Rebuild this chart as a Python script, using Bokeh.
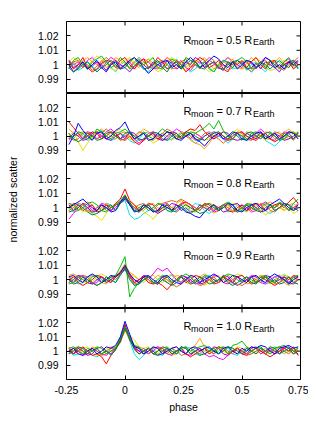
import numpy as np
from bokeh.plotting import figure
from bokeh.layouts import column, row
from bokeh.models import Range1d, FixedTicker, Label, CustomJSTickFormatter
from bokeh.embed import file_html
from bokeh.resources import INLINE

# phase grid (step 0.02)
phase = np.round(np.arange(50) * 0.02 - 0.24, 2)
x_ticks = [-0.25, 0, 0.25, 0.5, 0.75]
y_ticks = [0.99, 1.0, 1.01, 1.02]
x_lim = (-0.25, 0.75)
y_lim = (0.98, 1.03)
radii = ["0.5", "0.7", "0.8", "0.9", "1.0"]
colors = ["#00e8e8", "#e8e000", "#ff00ff", "#ffa500", "#9400d3",
          "#ff0000", "#d2691e", "#00c000", "#0000ff", "#008040"]

# deviations from 1, in units of 1e-3 (one row per colour)
dev_05 = [
    [-3, 1,-4,-2, 2,-1,-4, 0, 3,-2, -5, 0, 2,-2, 1, 4,-3,-5,-1, 2,  0,-3, 2, 4, 0,-2,-5,-3, 1, 2, -2,-5, 0, 3, 1,-3,-2, 2,-4, 0,  2,-2,-5, 0, 3, 2,-3, 1, 2,-2],
    [ 2, 5, 3, 0,-2, 3, 6, 4, 1,-3, -4, 1, 3, 5, 2,-1, 0, 4,-2,-5, -3, 2, 5, 3,-2,-4,-1, 1, 3,-2, -5,-3, 1, 2, 5, 3, 0,-3,-2, 2,  5, 2,-2,-4,-3, 0, 3, 2,-2, 1],
    [ 3, 0, 2,-2, 3, 5, 1,-3, 2, 5,  3,-2, 0, 2,-3, 1, 4, 2,-2,-3,  1, 5, 2, 0, 3,-2,-4, 0, 2,-2,  3, 1,-3, 2, 5, 2, 0,-2, 3, 1, -3, 2, 5, 3, 0,-2, 2, 4,-1, 2],
    [ 0, 2,-2, 3, 5, 2, 0, 3,-2, 1,  5, 3, 1, 4, 0,-2, 2, 4, 1,-3,  2, 5, 3, 0, 2,-2, 1, 3, 2, 5,  1,-3,-1, 2, 0, 4,-2,-3, 1, 5,  2,-2, 0, 3, 2, 5, 1,-2, 3, 2],
    [ 3,-2, 0, 2,-3,-1, 2, 0,-4, 1,  3, 0,-2,-5,-1, 2, 0,-3, 2, 0, -2, 3, 1,-3,-1, 2, 0, 5, 3,-2,  0, 2,-2,-4, 2, 0, 3, 1,-3,-2,  1,-3, 2, 0,-2,-5, 0, 2, 3, 0],
    [ 2,-3, 0, 5,-2,-5,-3, 1, 3, 2, -2, 3, 5, 0,-3, 2, 4,-2, 0, 5,  2,-3,-1, 3, 0,-5,-2, 2, 5, 3, -2, 0, 3,-3,-5, 2, 0, 3,-2, 2,  5, 0,-3, 2, 3,-2, 0, 2,-3, 0],
    [-3, 2, 3,-2, 0,-4,-1, 2, 5, 2, -2,-3, 0,-2, 2, 5, 2,-1,-3, 2,  3, 0,-3,-2, 2, 4,-2, 0,-3, 2,  5, 3,-2, 0,-4,-2, 1, 2, 3,-3, -2, 2, 3, 0, 2,-2,-4, 0, 2, 5],
    [-2, 3, 5, 0,-3, 2, 4, 6, 2,-2,  0, 5, 2,-3,-1, 3, 0, 2, 5,-2, -3, 0, 4, 2,-2, 5, 3, 0,-2, 2, -3,-5, 0, 3, 2,-2, 3, 5, 2,-3,  0, 2,-2, 3, 0,-3, 2, 5, 0,-2],
    [ 0,-5,-2, 2,-3, 0, 3,-2,-5, 0,  2,-3, 0, 3, 5, 2,-2,-6,-3, 0,  2, 3,-2, 0,-3, 2, 5, 2,-2, 0,  3, 6, 4, 0,-2, 2,-3, 0, 3, 2, -2, 0, 5, 3,-2, 0,-3, 2, 0, 3],
    [-2,-5,-3, 0, 2,-2,-5,-2, 0, 3,  0,-3,-2, 2, 5, 0,-3,-2, 0, 3, -2,-5, 0, 2,-3, 0, 3, 2,-2,-3,  0, 2,-2,-3, 0, 2, 3, 0,-2,-5, -2, 2, 0,-3, 0, 3, 0,-2, 2,-3],
]
dev_07 = [
    [ 2,-2, 3, 0,-3,-2, 2, 4, 0,-3, -2, 2, 0,-3,-5,-2, 2, 3, 0,-2,  2,-3,-2, 0, 3, 2,-2,-5,-3, 0,  2, 3, 0,-2,-5,-2, 2, 0,-3,-2,  0, 2,-3,-5,-7,-4, 0, 2,-2, 0],
    [ 0, 3,-4,-10,-5, 0, 3, 2,-2, 0, 3, 5, 2,-2,-3, 0, 2,-2,-5,-3,  0, 3, 2,-2, 0, 3, 5, 2, 0,-3, -2, 2, 3, 0,-2, 2, 5, 2,-2, 0,  3, 0,-3,-2, 2, 3, 0,-2, 2, 3],
    [-3, 0, 2,-2, 3, 2,-2, 0, 3, 5,  2,-2, 0, 2,-2,-5,-2, 2, 3, 0, -3,-2, 2, 5, 3, 0,-2, 2, 0,-3,  0, 3, 2,-2,-3, 0, 2, 3, 0,-2,  2, 5, 2,-2,-3, 0, 3, 2,-2, 2],
    [ 5, 2, 0, 3, 2,-2, 3, 5, 2, 0, -2, 2, 3, 0,-2, 2, 5, 3, 0,-2,  2, 0,-3, 0, 3, 2,-3,-5,-6,-9, -5, 0, 2, 3, 0,-2, 2, 0, 3, 2, -2, 0, 3, 2,-2, 0, 2, 5, 2,-2],
    [-2, 2, 0,-3,-2, 2, 3, 0,-2,-3,  0, 2,-2, 3, 2,-2,-3, 0, 2,-2, -3, 0, 3, 2,-2, 0, 2,-2,-3, 0,  2,-2, 0, 3, 2,-2,-3,-2, 2, 0, -2, 3, 0,-2, 2, 0,-3,-2, 0, 2],
    [10, 6, 2,-2, 0, 3, 2,-2, 0, 3,  2,-2,-3, 0,-4,-6,-3, 0, 2,-2,  0, 3, 2,-2, 0, 3, 5, 4, 8, 3,  0,-2, 2, 0,-3,-2, 2, 3, 0,-2, -3, 0, 2,-2,-4,-2, 0, 3, 2, 0],
    [ 0,-3,-2, 2, 3, 0,-2, 2, 5, 2,  0,-3,-2, 2, 0, 3, 2,-2,-3, 0,  2, 5, 3, 0,-2, 2, 0,-3,-2, 2,  3, 0,-2,-5,-2, 0, 3, 2,-2,-3,  0, 2,-2, 0, 3, 2,-2, 0,-3, 2],
    [-2, 0, 3, 2,-2, 0, 5, 3, 0,-2,  2, 3, 5, 2,-2, 0, 3, 0,-2, 2,  5, 3, 0,-2, 2, 0, 3, 2, 4, 6,  9, 5,11, 4, 0,-2, 2, 0,-3, 2,  3, 0,-2, 2, 0,-3,-2, 2, 3, 0],
    [-6, 0, 9, 4, 0,-3, 2, 3,-2, 0,  4, 6,10, 3,-2, 0, 2,-3,-2, 2,  0, 3, 2,-2,-3, 0, 2,-2,-4,-7, -3, 0, 2,-2, 0, 3, 2,-2,-3, 0,  2, 3,-2, 0, 2,-2, 0, 3, 2,-2],
    [ 2,-2,-4,-2, 2, 0,-3,-2, 2, 3,  0,-2, 2, 3, 0,-3,-2, 0, 3, 2, -2,-3, 0, 2,-2, 3, 2, 0,-2,-3,  0, 2, 3, 0,-2, 2, 0,-3, 2, 3,  0,-2, 2, 3, 0,-3, 2, 0,-2, 3],
]
dev_08 = [
    [ 0,-3,-2, 2, 0,-4,-2, 0, 3, 2, -2, 3, 5,-5,-8,-7,-4,-2, 0, 3,  2,-2,-3, 0, 2,-2, 0, 3, 2,-2, -4,-2, 0, 2,-3,-2, 2, 0,-3, 2,  3, 0,-2,-4,-2, 0, 3, 2,-2, 0],
    [-2, 2, 0,-3,-2,-4,-6,-9,-4, 0,  2, 4, 6, 2,-2, 0,-3,-5,-8,-4,  0, 2,-2, 0, 3, 2,-2,-3, 0, 2, -2,-4,-2, 2, 0, 3, 2,-2,-3, 0,  2,-2,-5,-3, 0, 2,-2, 0,-4,-2],
    [-8,-4, 0, 3, 2,-2, 0, 3, 2,-2,  0, 4, 7, 3, 0,-2, 2, 0,-3,-2,  2, 3, 0,-2, 2, 4, 2, 0,-2, 2,  0,-3,-2, 2, 3, 0,-2, 2, 0,-3, -2, 2, 4, 2,-2, 0, 3, 2, 0, 3],
    [ 3, 0,-2, 2, 4, 2,-2, 0, 3, 0,  2, 3, 8, 4, 2, 0,-2, 2, 3, 0, -2, 2, 0, 3, 5, 3, 0,-2, 2, 0,  3, 2,-2, 0, 2,-2,-3, 0, 2, 3,  0,-2, 2, 4, 2, 0,-2, 2, 3, 0],
    [ 2,-2, 0, 3, 0,-3,-2, 2, 0,-2,  2, 3, 6, 2,-2,-3, 0, 2,-2,-4, -2, 0, 3, 2,-2, 0,-3,-2, 2, 0, -2, 2, 0,-3,-2, 2, 3, 0,-2, 2,  0,-3,-2, 2, 0, 3, 2,-2, 0,-2],
    [ 0, 3, 2,-2, 0, 2,-3,-2, 2, 0,  3, 6,13, 5, 2,-2, 0, 3, 2,-2,  0, 2,-2, 0, 3, 4, 2,-2, 0, 3,  2,-2, 0, 2,-2,-3, 0, 2,-2, 0,  3, 2,-2, 0, 2, 3, 0, 4, 7, 3],
    [-2, 0, 3, 2,-2,-3, 0, 2,-2, 0,  2, 4, 7, 3, 0, 2, 3, 0,-2, 2,  3, 4, 5, 4, 6, 4, 2, 0,-2, 2,  3, 0,-2, 2, 0,-3,-2, 0, 2,-2,  0, 3, 2,-2,-3, 0, 2,-2, 0, 2],
    [ 3, 2,-2, 0, 3, 4, 2,-2,-3, 0,  2, 5, 9, 3,-2, 0, 2,-2, 0, 3,  2,-2,-3, 0, 2,-2,-4,-2, 0, 2,  3, 0,-2, 2, 4, 2,-2, 0, 3, 2, -2, 0, 3, 2, 0, 4, 2,-2, 3, 6],
    [ 0, 2, 4, 6, 3, 0,-2, 2, 0,-3, -2, 4, 8, 2,-3,-2, 2, 0,-3,-2,  2, 0,-2, 2, 0,-3,-4,-6,-7,-3,  0, 2,-2, 0, 3, 2,-2,-3, 0, 2,  3, 0,-2, 2, 4, 6, 3, 0,-2, 2],
    [-3,-2, 2, 0,-3,-5,-4,-2, 0, 2, -2, 3, 7, 4,-2,-3, 0, 2,-2,-3,  0, 2,-2,-3, 0, 2, 0,-2,-4,-3,  0, 2,-2, 0, 3, 0,-3,-2, 2, 0, -2,-3, 0, 2,-2, 0, 3, 2,-2, 0],
]
dev_09 = [
    [ 2, 0,-3,-2, 2, 3, 0,-2, 2, 0, -2, 4, 7, 2,-4,-3, 0, 2,-2,-3,  0, 2, 3, 0,-2, 2, 0,-3,-2, 2,  3, 0,-2, 2, 0,-3, 2, 3, 0,-2,  2, 0,-3,-2, 2, 0, 3, 2,-2, 0],
    [-2, 2, 3, 0,-3,-2, 2, 4, 2, 0,  3, 5,10, 4, 2, 0,-2, 2, 3, 0, -2, 2, 4, 2,-2, 0, 3, 2,-2,-4, -2, 2, 3, 0,-2, 2, 4, 3, 0,-2,  2, 3, 0,-3,-2, 2, 4, 2, 0, 3],
    [ 0,-2, 2, 3, 0,-3,-2, 2, 0,-2,  2, 4, 8, 3, 0,-2, 2, 0, 4, 8,  6, 8, 4, 0,-2, 2, 0,-3,-2, 2,  0, 3, 2,-2,-3, 0, 2,-2, 0, 3,  2,-2,-3, 0, 2, 3, 0,-2, 2, 0],
    [ 3, 4, 2,-2, 0, 3, 2,-2,-3, 0,  2, 6,11, 5, 3, 0, 2,-2, 0, 3,  2,-2, 0, 3, 2,-2,-3, 0, 2, 4,  2,-2, 0, 3, 0,-2, 2, 0,-3,-2,  0, 3, 2,-2, 0, 2,-2,-4,-2, 2],
    [-2, 0, 3, 2,-2,-3, 0, 2,-2, 0,  3, 4, 7, 2,-2, 0, 3, 2,-2,-3,  0, 2,-2, 0, 3, 2,-2, 0,-3,-2,  2, 0,-2, 3, 2,-2,-4,-2, 0, 2, -2, 0, 3, 2,-2, 0, 2,-2,-3, 0],
    [ 0, 2,-2,-4,-2, 0, 3, 2, 0,-2,  2, 5, 9, 3,-2, 0, 2,-2,-3,-2, -4,-7,-3, 0, 2,-2, 0, 3, 2,-2,  0,-3,-2, 2, 0,-2, 2, 3, 0,-3, -2, 2, 0,-2,-4,-2, 2, 0, 3, 2],
    [ 2,-2, 0, 3, 2,-2,-4,-2, 0, 2,  0, 4, 8, 2,-3,-2, 2, 0,-3,-2,  2, 0,-3,-5,-3, 0, 2,-2,-4,-3,  0, 2,-2, 0, 3, 0,-3,-4,-2, 2,  0,-2, 2, 0,-3,-2, 0, 2,-2, 0],
    [-3,-2, 2, 0,-2, 2, 3, 0,-2, 2,  3, 9,16,-12,-6,-2, 0, 2,-2, 0, 3, 2,-2, 0, 2, 4, 2,-2, 0, 3,  2,-2, 0, 2, 4, 3, 0,-2, 2, 0, -2, 2, 3, 0,-2, 2, 0,-3, 2, 3],
    [ 2, 3, 0,-2, 2, 4, 2,-2, 0, 3,  2, 5,10, 4, 0,-2, 2, 3, 0,-2,  2, 3, 0,-2,-3, 0, 3, 2,-2, 0,  2, 4, 2,-2, 0, 3, 2, 0,-2, 2,  3, 0,-2, 2, 4, 2, 0,-3, 0, 2],
    [ 0,-3,-2, 2, 0,-2,-4,-2, 2, 0, -2, 3, 8, 0,-4,-3, 0, 2,-2,-3,  0,-2,-4,-2, 2, 0,-3,-2, 2, 0, -3,-2, 0, 2,-2,-4,-2, 0, 2,-2, -3, 0, 2,-2, 0,-3,-2, 2,-2,-3],
]
dev_10 = [
    [ 0,-3,-2, 2, 0,-3,-4,-2, 0, 2,  3, 8,16, 7,-2,-6,-3, 0, 2,-2, -3, 0, 2,-2, 0, 3, 2,-2,-3, 0,  2,-2, 0, 3, 2,-2,-3, 0, 2,-2,  0, 2,-2, 0, 3, 2,-2, 0, 2,-3],
    [ 2, 0,-2, 2, 3, 0,-3,-2, 2, 0,  2, 7,14,11, 8, 3, 2, 3, 0,-2,  2, 0,-3,-2, 2, 3, 0,-2, 2, 0, -2, 2, 3, 0,-2, 0, 3, 2,-2, 0,  2,-2, 0, 3, 2, 0,-2, 2, 0, 3],
    [-2, 2, 0,-3,-2, 2, 0,-2,-3, 0,  2, 6,17, 9, 2, 0, 2,-2, 0, 3,  2,-2,-3, 0, 2,-2,-3, 0, 2,-2, -4,-3,-5,-6,-3, 0, 2,-2, 0, 3,  2,-2, 0, 2,-2, 0, 3, 2,-2, 0],
    [ 3, 0, 2,-2, 0, 3, 2,-2, 0, 3,  3, 9,15, 8, 3, 2,-2, 0, 3, 2,  0,-2, 2, 3, 0,-2, 2, 4, 9, 3,  0,-2, 2, 0, 3, 2,-2, 0, 3, 2, -2, 0, 2,-2, 0, 3, 2, 0,-2, 2],
    [ 0,-2, 2, 0,-3,-2, 2, 3, 0,-2,  2, 7,18,10, 3, 0,-2, 2, 0,-3, -2, 2, 0,-2, 3, 2,-2, 0, 2,-2,  0, 3, 2,-2,-3, 0, 2, 0,-2, 2,  3, 0,-2, 2, 0,-2, 2, 3, 0,-2],
    [ 2,-2, 0, 3, 0,-3,-2,-4,-9,-3,  1, 8,19, 8, 2,-2, 0, 2,-2, 0,  3, 2,-2, 0, 2,-2,-4,-2, 0, 2, -2, 0, 3, 2,-2, 0, 2,-2,-3, 0,  2, 0,-2,-4,-2, 0, 2, 0, 3,-3],
    [-2, 2, 3, 0,-2, 2, 0,-3,-2, 2,  2, 6,15, 9, 4, 2, 0,-2, 2, 3,  0,-2, 2, 0,-3,-2, 2, 0,-2, 2,  0,-2, 2, 3, 0,-2, 2, 0,-3,-2,  0, 2,-2, 0, 2, 3, 0,-2, 2, 0],
    [ 2, 3, 0,-2, 2, 0, 3, 2,-2, 0,  2, 9,17,10, 4, 3, 0, 2,-2, 0,  2, 3, 0,-2, 2, 3, 0, 2, 3, 4,  2, 0, 3, 2,-2, 4, 5, 7, 3, 0,  2, 3, 0,-2, 2, 3, 4, 2, 0, 2],
    [ 0, 2,-2,-3, 0, 2,-2, 0, 3, 2,  4,10,21,12, 3, 2,-2, 0, 3, 2, -2, 0, 2, 3, 0,-2, 2, 3, 0, 2,  3, 0,-2, 2, 3, 0,-2, 2, 0, 3,  2, 4, 3, 0,-2, 2, 3, 4, 2, 3],
    [-2, 0, 3, 2,-2, 0, 2,-2, 0,-3,  1, 7,16, 9, 1,-2, 0, 2,-2,-3,  0, 2,-2, 0, 3, 2,-2, 0,-3,-2,  0, 2,-2, 0, 3, 2, 0,-2, 2, 0, -2, 2, 0, 3, 2,-2, 0, 2,-2, 0],
]
panels = [dev_05, dev_07, dev_08, dev_09, dev_10]
y_title = "normalized scatter"
x_title = "phase"

FONT = "Liberation Sans"
fmt = CustomJSTickFormatter(code="return String(Math.round(tick*100)/100);")
frame_heights = [72, 71, 72, 72, 71]
# the page is drawn from the window's corner: keep an 8px offset in the borders
TITLE_W, LEFT, RIGHT, TOP, BOTTOM, FRAME_W = 30, 36, 8, 21, 34, 234


def style_axis(ax):
    ax.axis_line_color = None
    ax.major_tick_in = 4
    ax.major_tick_out = 0
    ax.minor_tick_in = 0
    ax.minor_tick_out = 0
    ax.major_tick_line_color = "black"
    ax.major_label_text_font = FONT
    ax.major_label_text_font_size = "10.5px"
    ax.major_label_text_color = "black"
    ax.formatter = fmt
    ax.axis_label_text_font = FONT
    ax.axis_label_text_font_size = "10.5px"
    ax.axis_label_text_font_style = "normal"
    ax.axis_label_text_color = "black"


figs = []
for k, (r, dev, fh) in enumerate(zip(radii, panels, frame_heights)):
    first = k == 0
    last = k == len(radii) - 1
    top_b = TOP if first else 0
    bot_b = BOTTOM if last else 0
    p = figure(frame_width=FRAME_W, frame_height=fh,
               x_range=Range1d(*x_lim), y_range=Range1d(*y_lim),
               x_axis_location="below" if last else None, y_axis_location="left",
               output_backend="svg", toolbar_location=None,
               min_border_left=LEFT, min_border_right=RIGHT,
               min_border_top=top_b, min_border_bottom=bot_b,
               outline_line_color="black", outline_line_width=1,
               background_fill_color="white", border_fill_color="white")
    p.grid.visible = False

    ly = p.yaxis[0]
    ly.ticker = FixedTicker(ticks=y_ticks)
    style_axis(ly)
    ly.major_label_standoff = 8
    if last:
        bx = p.xaxis[0]
        bx.ticker = FixedTicker(ticks=x_ticks)
        style_axis(bx)
        bx.major_label_standoff = 6
        bx.axis_label = x_title
        bx.axis_label_standoff = 4

    # inward tick marks on the unlabeled frame edges (clipped to the frame)
    p.scatter(x=x_ticks, y=[y_lim[1]] * len(x_ticks), marker="dash", angle=np.pi / 2,
              size=8, line_color="black", line_width=1)
    if not last:
        p.scatter(x=x_ticks, y=[y_lim[0]] * len(x_ticks), marker="dash", angle=np.pi / 2,
                  size=8, line_color="black", line_width=1)
    p.scatter(x=[x_lim[1]] * len(y_ticks), y=y_ticks, marker="dash",
              size=8, line_color="black", line_width=1)

    for row_vals, c in zip(dev, colors):
        p.line(phase, 1 + np.array(row_vals) / 1000.0, line_color=c, line_width=1)

    for txt, sx, yv, fs in [("R", 117, 1.0175, "11px"), ("moon", 124.5, 1.0155, "9px"),
                            ("= " + r + " R", 150, 1.0175, "11px"), ("Earth", 186.5, 1.0155, "9px")]:
        p.add_layout(Label(x=sx, y=yv, x_units="screen", y_units="data", text=txt,
                           text_font=FONT, text_font_size=fs, text_color="black",
                           text_baseline="alphabetic", text_align="left"))
    figs.append(p)

total_h = sum(frame_heights) + TOP + BOTTOM
title_fig = figure(width=TITLE_W, height=total_h, x_range=Range1d(0, 1), y_range=Range1d(0, 1),
                   x_axis_location=None, y_axis_location=None,
                   output_backend="svg", toolbar_location=None,
                   min_border=0, outline_line_color=None,
                   background_fill_color="white", border_fill_color="white")
title_fig.grid.visible = False
title_fig.add_layout(Label(x=12, y=total_h - 199, x_units="screen", y_units="screen",
                           text=y_title, angle=np.pi / 2, text_align="center",
                           text_baseline="middle", text_font=FONT,
                           text_font_size="10.5px", text_color="black"))

layout = row(title_fig, column(*figs, spacing=0), spacing=0)
open("out.html", "w").write(file_html(layout, INLINE))
